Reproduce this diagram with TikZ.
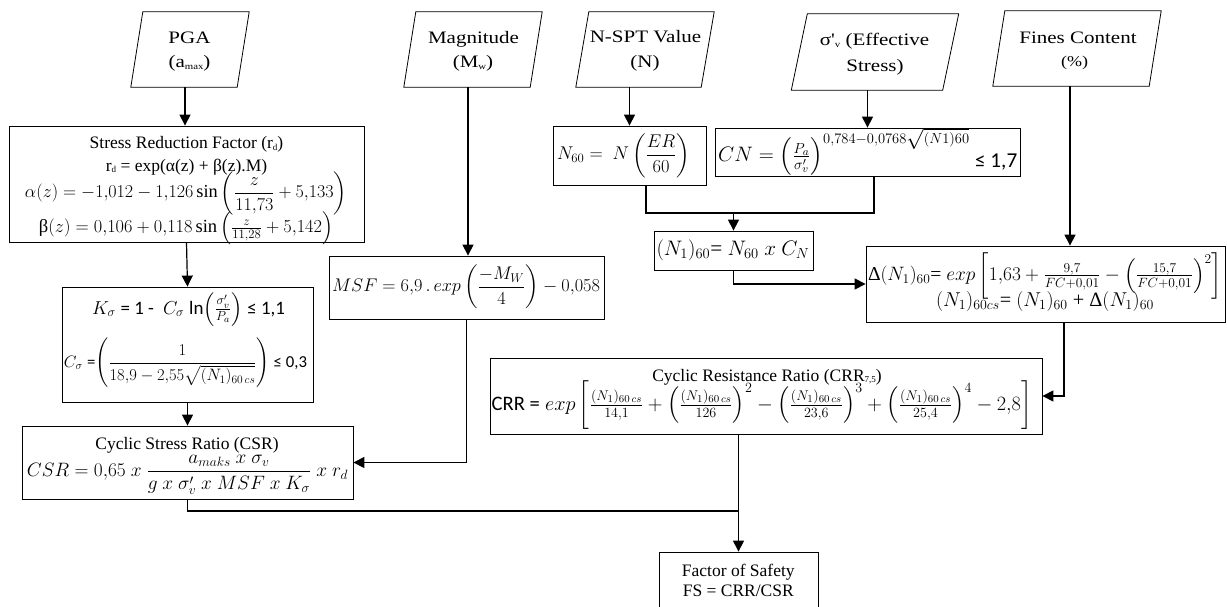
\documentclass[tikz,border=0pt]{standalone}
\usepackage{amsmath}
\usepackage{graphicx}
\usepackage{fontspec}
\setmainfont{Liberation Serif}
\newfontfamily\calib{Carlito}
\usetikzlibrary{arrows.meta}
\tikzset{
  bx/.style={draw, line width=0.8pt, inner sep=0pt},
  io/.style={inner sep=0pt},
  para/.style={line width=0.8pt},
  tl/.style={inner sep=0pt, anchor=base, font=\fontsize{17.5}{20}\selectfont},
  arr/.style={line width=1.2pt, -{Triangle[width=11pt,length=11pt]}},
  ln/.style={line width=1.2pt},
}
\newcommand{\smsub}[1]{\raisebox{-1.5pt}{\fontsize{9}{9}\selectfont #1}}
\newcommand{\wide}[1]{\scalebox{1.2}[1]{#1}}
\begin{document}
\begin{tikzpicture}[x=1pt,y=-1pt]
\useasboundingbox (0,0) rectangle (1227,607);
\clip (0,0) rectangle (1227,607);
% ---------- input parallelograms ----------
\node[io, minimum width=106pt, minimum height=75pt] (pga) at (190,49.5) {};
\node[io, minimum width=126pt, minimum height=75pt] (mag) at (473,49.5) {};
\node[io, minimum width=125pt, minimum height=75pt] (spt) at (645,49.5) {};
\node[io, minimum width=151pt, minimum height=76pt] (sig) at (875,52) {};
\node[io, minimum width=156pt, minimum height=75pt] (fc) at (1077,48.5) {};
\foreach \n/\s in {pga/6,mag/6,spt/6.5,sig/8,fc/6}
  \draw[para] ([xshift=\s pt]\n.north west) -- ([xshift=\s pt]\n.north east)
     -- ([xshift=-\s pt]\n.south east) -- ([xshift=-\s pt]\n.south west) -- cycle;
\node[tl] (pga1) at (189.5,43.3) {\wide{PGA}};
\node[tl] (pga2) at (189.5,68) {\wide{(a\smsub{max})}};
\node[tl] (mag1) at (473.5,43.3) {\wide{Magnitude}};
\node[tl] (mag2) at (473,68) {\wide{(M\smsub{w})}};
\node[tl] (spt1) at (645.5,43) {\wide{N-SPT Value}};
\node[tl] (spt2) at (645,68) {\wide{(N)}};
\node[tl] (sig1) at (874.5,45.7) {\wide{σ\textquotesingle\smsub{v} (Effective}};
\node[tl] (sig2) at (875,71.7) {\wide{Stress)}};
\node[tl] (fc1) at (1078,44) {\wide{Fines Content}};
\node[tl, font=\fontsize{15}{18}\selectfont] (fc2) at (1074.5,66.7) {\wide{(\%)}};
% ---------- process boxes ----------
\node[bx, minimum width=355pt, minimum height=116pt] (srf) at (186.5,184) {};
\node[bx, minimum width=251pt, minimum height=115pt] (k) at (187.5,344.5) {};
\node[bx, minimum width=331pt, minimum height=73pt] (csr) at (187.5,462.5) {};
\node[bx, minimum width=275pt, minimum height=63pt] (msf) at (466.5,287.5) {};
\node[bx, minimum width=153pt, minimum height=59pt] (n60) at (629.5,155.5) {};
\node[bx, minimum width=305pt, minimum height=48pt] (cn) at (867.5,152) {};
\node[bx, minimum width=159pt, minimum height=39pt] (n1) at (733.5,250.5) {};
\node[bx, minimum width=359pt, minimum height=76pt] (delta) at (1045.5,284) {};
\node[bx, minimum width=552pt, minimum height=76pt] (crr) at (766,396) {};
\node[bx, minimum width=159pt, minimum height=60pt] (fs) at (738.5,582) {};
% ---------- box texts ----------
\node[tl] (srf1) at (186.5,149) {Stress Reduction Factor (r\smsub{d})};
\node[tl] (srf2) at (186.5,171.5) {r\smsub{d} = exp(α(z) + β(z).M)};
\node[tl] (srf3) at (186,198) {\resizebox{322pt}{!}{$\alpha(z) = -1{,}012 - 1{,}126\sin\left(\dfrac{z}{11{,}73} + 5{,}133\right)$}};
\node[tl] (srf4) at (186,232.5) {\resizebox{294pt}{!}{β$(z) = 0{,}106 + 0{,}118\sin\left(\tfrac{z}{11{,}28} + 5{,}142\right)$}};
\node[tl] (k1) at (188.5,314) {\resizebox{193pt}{!}{$K_\sigma$ {\calib = 1 - } $C_\sigma$ {\calib ln}$\left(\tfrac{\sigma'_v}{P_a}\right)$ {\calib ≤ 1,1}}};
\node[tl] (k2) at (185.5,367) {\resizebox{243pt}{!}{$C_\sigma$ {\calib =}$\left(\dfrac{1}{18{,}9-2{,}55\sqrt{(N_1)_{60\,cs}}}\right)$ {\calib ≤ 0,3}}};
\node[tl] (csr1) at (187,449.3) {Cyclic Stress Ratio (CSR)};
\node[tl] (csr2) at (187.5,476.7) {\resizebox{321pt}{!}{$CSR = 0{,}65\ x\ \dfrac{a_{maks}\ x\ \sigma_v}{g\ x\ \sigma'_v\ x\ MSF\ x\ K_\sigma}\ x\ r_d$}};
\node[tl] (msf1) at (466,291.7) {\resizebox{268pt}{!}{$MSF = 6{,}9\,.\,exp\left(\dfrac{-M_W}{4}\right) - 0{,}058$}};
\node[tl] (n601) at (623.5,160) {\resizebox{133pt}{!}{$N_{60} =\ N\left(\dfrac{ER}{60}\right)$}};
\node[tl, anchor=base west] (cn1) at (718,162) {\resizebox{299pt}{!}{$CN = \left(\tfrac{P_a}{\sigma'_v}\right)^{0{,}784-0{,}0768\sqrt{(N1)60}}$ \raisebox{-4.5pt}{\calib ≤ 1,7}}};
\node[tl] (n11) at (733,255) {\resizebox{153pt}{!}{$(N_1)_{60}$= $N_{60}\ x\ C_N$}};
\node[tl] (delta1) at (1045,280.7) {\resizebox{354pt}{!}{Δ$(N_1)_{60}$= $exp\left[1{,}63 + \tfrac{9{,}7}{FC+0{,}01} - \left(\tfrac{15{,}7}{FC+0{,}01}\right)^2\right]$}};
\node[tl] (delta2) at (1045,306.7) {\resizebox{218pt}{!}{$(N_1)_{60cs}$= $(N_1)_{60}$ + Δ$(N_1)_{60}$}};
\node[tl] (crr1) at (767,381) {Cyclic Resistance Ratio (CRR\smsub{7,5})};
\node[tl] (crr2) at (761.7,410) {\resizebox{540pt}{!}{{\calib CRR =} $exp\left[\tfrac{(N_1)_{60\,cs}}{14{,}1} + \left(\tfrac{(N_1)_{60\,cs}}{126}\right)^2 - \left(\tfrac{(N_1)_{60\,cs}}{23{,}6}\right)^3 + \left(\tfrac{(N_1)_{60\,cs}}{25{,}4}\right)^4 - 2{,}8\right]$}};
\node[tl] (fs1) at (738.3,576) {Factor of Safety};
\node[tl] (fs2) at (738.3,596.7) {FS = CRR/CSR};
% ---------- connectors ----------
\draw[arr] ([xshift=-5pt]pga.south) -- ([xshift=-5pt]pga.south |- srf.north);
\draw[arr] (srf.south) -- (k.north);
\draw[arr] (k.south) -- (csr.north);
\draw[arr] ([xshift=-5pt]mag.south) -- ([xshift=-5pt]mag.south |- msf.north);
\draw[arr] (msf.south) |- (csr.east);
\draw[arr] (spt.south -| n60.north) -- (n60.north);
\draw[arr] (sig.south -| cn.north) -- (cn.north);
\coordinate (mrg) at (733.5,213);
\draw[ln] ([xshift=16.5pt]n60.south) |- (mrg) -| ([xshift=6.5pt]cn.south);
\draw[arr] (mrg) -- (n1.north);
\draw[arr] (n1.south) |- (delta.west);
\draw[arr] ([xshift=-7pt]fc.south) -- ([xshift=-7pt]fc.south |- delta.north);
\draw[arr] ([xshift=18.5pt]delta.south) |- (crr.east);
\draw[arr] (crr.south -| fs.north) -- (fs.north);
\coordinate (j) at (738.5,511);
\draw[ln] (csr.south) |- (j);
\end{tikzpicture}
\end{document}
